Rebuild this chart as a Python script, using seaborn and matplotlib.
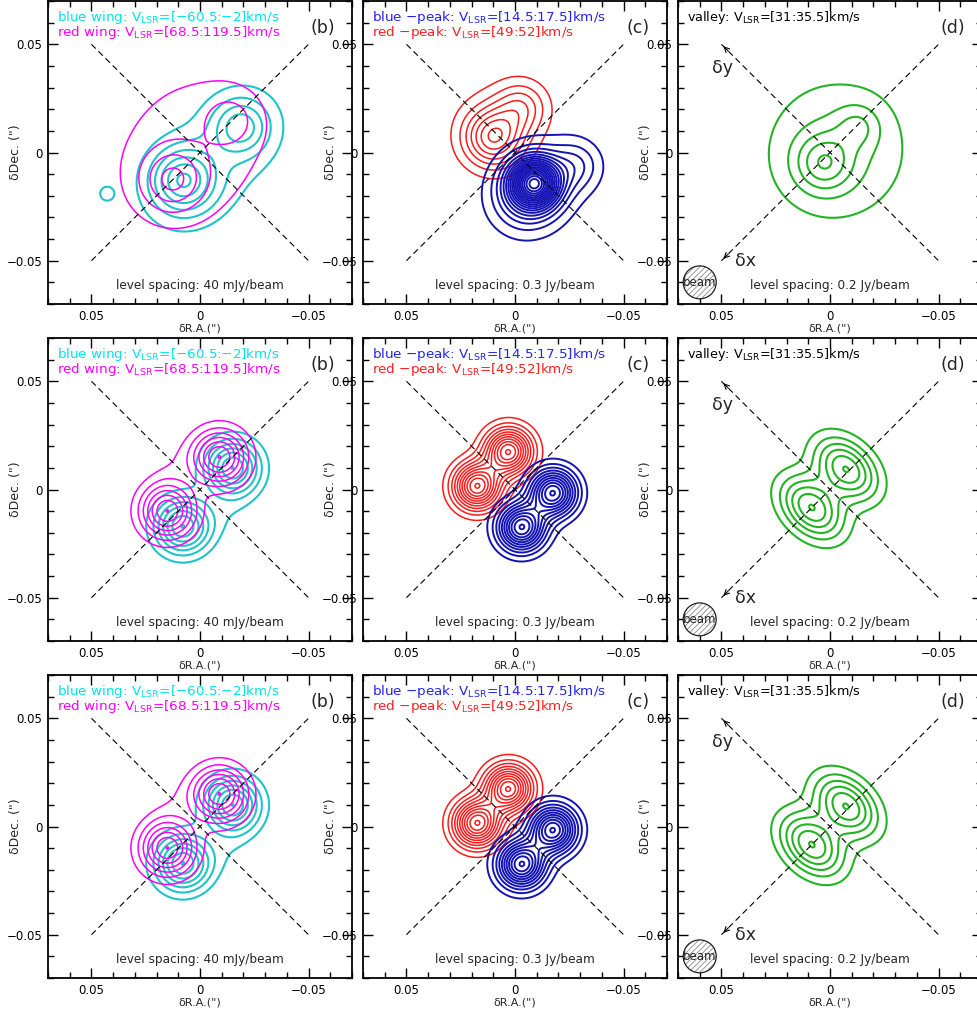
import numpy as np
import matplotlib.pyplot as plt
import seaborn as sns
from matplotlib.patches import Circle
from matplotlib.ticker import MultipleLocator

sns.set_style('ticks')
plt.rcParams['font.family'] = ['DejaVu Sans']
plt.rcParams['hatch.linewidth'] = 0.6

# emission components:
# (dRA, dDec, peak in units of the level spacing, sigma along pa, sigma across pa, pa in deg)
obs_blue_wing = [(0.008, -0.013, 5.0, 0.010, 0.010, 0),
                 (-0.019, 0.012, 3.6, 0.009, 0.009, 0),
                 (-0.007, -0.004, 1.5, 0.030, 0.019, 130),
                 (0.043, -0.019, 1.25, 0.0035, 0.0035, 0)]
obs_red_wing = [(0.013, -0.013, 3.0, 0.010, 0.010, 0),
                (-0.014, 0.015, 1.5, 0.008, 0.008, 0),
                (0.003, 0.002, 1.6, 0.032, 0.028, 135)]
obs_blue_peak = [(-0.009, -0.014, 15.0, 0.0075, 0.0075, 0),
                 (-0.028, -0.006, 2.5, 0.008, 0.008, 0),
                 (-0.004, -0.022, 3.0, 0.011, 0.011, 0),
                 (-0.012, -0.012, 1.5, 0.016, 0.016, 0)]
obs_red_peak = [(0.010, 0.007, 6.0, 0.009, 0.009, 0),
                (-0.003, 0.021, 3.0, 0.008, 0.008, 0),
                (0.007, 0.012, 1.2, 0.016, 0.016, 0)]
obs_valley = [(0.003, -0.005, 3.1, 0.009, 0.009, 0),
              (-0.013, 0.012, 1.6, 0.007, 0.007, 0),
              (-0.003, 0.001, 2.2, 0.024, 0.024, 0)]

mod_blue_wing = [(-0.015, 0.010, 7.0, 0.0085, 0.0085, 0),
                 (0.008, -0.017, 7.0, 0.0085, 0.0085, 0),
                 (-0.0126, -0.0113, 0.6, 0.010, 0.006, -45)]
mod_red_wing = [(-0.009, 0.015, 7.0, 0.0085, 0.0085, 0),
                (0.015, -0.010, 7.0, 0.0085, 0.0085, 0),
                (0.012, 0.011, 0.6, 0.010, 0.006, -45)]
mod_blue_peak = [(-0.0175, -0.0015, 11.0, 0.0072, 0.0072, 0),
                 (-0.003, -0.0175, 11.0, 0.0072, 0.0072, 0)]
mod_red_peak = [(0.0175, 0.0015, 11.0, 0.0072, 0.0072, 0),
                (0.003, 0.0175, 11.0, 0.0072, 0.0072, 0)]
mod_valley = [(0.0085, -0.0085, 6.0, 0.0078, 0.0115, -45),
              (-0.0075, 0.0095, 6.0, 0.0078, 0.0115, -45)]

wing_labels = ['blue wing: V$_{\\rm LSR}$=[\u221260.5:\u22122]km/s',
               'red wing: V$_{\\rm LSR}$=[68.5:119.5]km/s']
peak_labels = ['blue \u2212peak: V$_{\\rm LSR}$=[14.5:17.5]km/s',
               'red \u2212peak: V$_{\\rm LSR}$=[49:52]km/s']
valley_label = 'valley: V$_{\\rm LSR}$=[31:35.5]km/s'
spacings = ['level spacing: 40 mJy/beam', 'level spacing: 0.3 Jy/beam',
            'level spacing: 0.2 Jy/beam']
panel_tags = ['(b)', '(c)', '(d)']

diag_x = [0.05, -0.05]
diag_down = [0.05, -0.05]
diag_up = [-0.05, 0.05]
beam_pos = (0.06, -0.06)
beam_r = 0.0076

grid = np.linspace(-0.07, 0.07, 281)
X, Y = np.meshgrid(grid, grid)
levels = np.arange(1, 40)


def sky(comps):
    z = np.zeros_like(X)
    for x0, y0, amp, sa, sb, pa in comps:
        t = np.deg2rad(pa)
        u = (X - x0) * np.cos(t) + (Y - y0) * np.sin(t)
        v = -(X - x0) * np.sin(t) + (Y - y0) * np.cos(t)
        z += amp * np.exp(-0.5 * ((u / sa) ** 2 + (v / sb) ** 2))
    return z


W, H = 977, 1017
fig = plt.figure(figsize=(W / 100, H / 100), dpi=100)

col_left = [48, 363, 678]
row_top = [1, 338, 675]
aw, ah = 304, 303

rows = [(obs_blue_wing, obs_red_wing, obs_blue_peak, obs_red_peak, obs_valley),
        (mod_blue_wing, mod_red_wing, mod_blue_peak, mod_red_peak, mod_valley),
        (mod_blue_wing, mod_red_wing, mod_blue_peak, mod_red_peak, mod_valley)]

dash = (0, (5.5, 3.5))

for r, (bw, rw, bp, rp, va) in enumerate(rows):
    for c in range(3):
        ax = fig.add_axes([col_left[c] / W, 1 - (row_top[r] + ah) / H, aw / W, ah / H])

        if c == 0:
            ax.contour(X, Y, sky(bw), levels=levels, colors='#1ec4c8', linewidths=1.5)
            ax.contour(X, Y, sky(rw), levels=levels, colors='#ff00ff', linewidths=1.1)
            ax.text(0.03, 0.947, wing_labels[0], transform=ax.transAxes, color='#00e4ec',
                    fontsize=9.7, va='center')
            ax.text(0.03, 0.895, wing_labels[1], transform=ax.transAxes, color='#ff00ff',
                    fontsize=9.7, va='center')
        elif c == 1:
            ax.contour(X, Y, sky(rp), levels=levels, colors='#ff1a1a', linewidths=1.1)
            ax.contour(X, Y, sky(bp), levels=levels, colors='#1414b4', linewidths=1.4)
            ax.text(0.03, 0.947, peak_labels[0], transform=ax.transAxes, color='#2424f0',
                    fontsize=9.7, va='center')
            ax.text(0.03, 0.895, peak_labels[1], transform=ax.transAxes, color='#ff2020',
                    fontsize=9.7, va='center')
        else:
            ax.contour(X, Y, sky(va), levels=levels, colors='#22b422', linewidths=1.5)
            ax.text(0.03, 0.947, valley_label, transform=ax.transAxes, color='black',
                    fontsize=9.2, va='center')

        # the two diagonal axes
        sns.lineplot(x=diag_x, y=diag_down, ax=ax, color='black', lw=0.8,
                     linestyle=dash, sort=False)
        sns.lineplot(x=diag_x, y=diag_up, ax=ax, color='black', lw=0.8,
                     linestyle=dash, sort=False)

        if c == 2:
            for yy in (0.05, -0.05):
                ax.annotate('', xy=(0.05, yy), xytext=(0.046, yy * 0.92),
                            arrowprops=dict(arrowstyle='->', lw=0.8, color='black',
                                            mutation_scale=9))
            ax.text(0.0495, 0.039, '\u03b4y', fontsize=12.5, ha='center', va='center')
            ax.text(0.039, -0.050, '\u03b4x', fontsize=12.5, ha='center', va='center')
            ax.add_patch(Circle(beam_pos, beam_r, facecolor='white', edgecolor='#8a8a8a',
                                lw=0, hatch='//////', zorder=4))
            ax.add_patch(Circle(beam_pos, beam_r, fill=False, edgecolor='#222222',
                                lw=0.9, zorder=5))
            ax.text(beam_pos[0], beam_pos[1], 'beam', fontsize=8.5, ha='center',
                    va='center', zorder=6)

        ax.text(0, -0.0615, spacings[c], fontsize=8.7, ha='center', va='center')
        ax.text(0.905, 0.912, panel_tags[c], transform=ax.transAxes, fontsize=12.5,
                ha='center', va='center')

        ax.set_xlim(0.07, -0.07)
        ax.set_ylim(-0.07, 0.07)
        ax.set_xticks([0.05, 0, -0.05])
        ax.set_xticklabels(['0.05', '0', '\u22120.05'])
        ax.set_yticks([-0.05, 0, 0.05])
        ax.set_yticklabels(['\u22120.05', '0', '0.05'])
        ax.xaxis.set_minor_locator(MultipleLocator(0.01))
        ax.yaxis.set_minor_locator(MultipleLocator(0.01))
        ax.tick_params(which='both', direction='in', top=True, right=True,
                       labelsize=8.5, colors='black', width=1.0)
        ax.tick_params(which='major', length=7, pad=4)
        ax.tick_params(which='minor', length=4)
        for sp in ax.spines.values():
            sp.set_linewidth(1.3)
            sp.set_color('black')
        ax.set_xlabel('\u03b4R.A.(")', fontsize=8, labelpad=1)
        ax.set_ylabel('\u03b4Dec. (")', fontsize=9)
        ax.yaxis.set_label_coords(-0.085, 0.5)

fig.savefig('out.png', dpi=100)
